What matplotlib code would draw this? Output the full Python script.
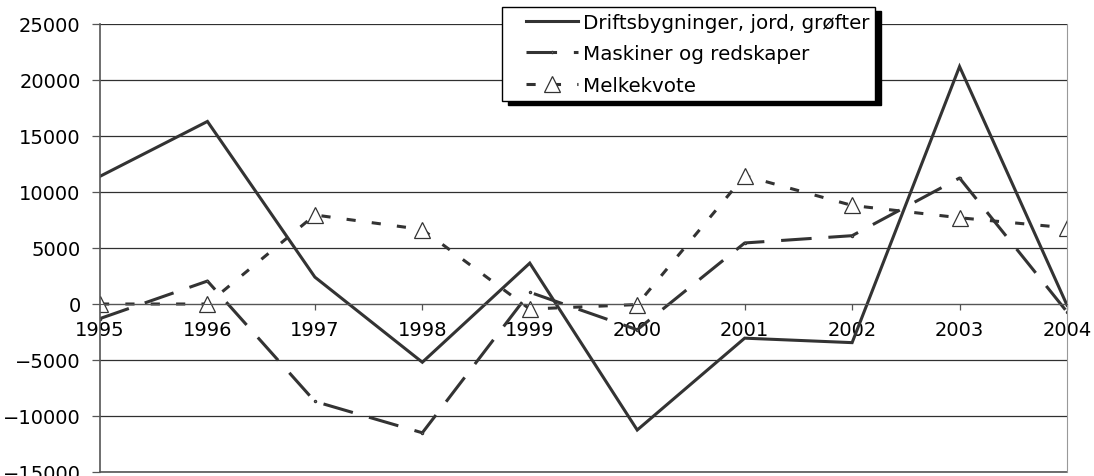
import matplotlib.pyplot as plt
from matplotlib.lines import Line2D
from matplotlib.legend_handler import HandlerLine2D

years = [1995, 1996, 1997, 1998, 1999, 2000, 2001, 2002, 2003, 2004]
drift = [11400, 16300, 2400, -5200, 3650, -11250, -3050, -3450, 21200, -100]
maskiner = [-1300, 2050, -8700, -11500, 1050, -2300, 5450, 6100, 11250, -700]
melkekvote = [0, 0, 7950, 6650, -450, -50, 11450, 8800, 7700, 6800]

labels = ["Driftsbygninger, jord, grøfter", "Maskiner og redskaper", "Melkekvote"]

plt.rcParams['font.family'] = ['DejaVu Sans']
col = "#333333"

fig = plt.figure(figsize=(10.94, 4.77), dpi=100)
ax = fig.add_axes([100 / 1094, 4 / 477, 967 / 1094, 448 / 477])

ax.plot(years, drift, color=col, lw=2.2, solid_joinstyle='miter')
ax.plot(years, maskiner, color=col, lw=2.2, dashes=(10, 5.5),
        marker='.', markersize=3, markerfacecolor='white', markeredgecolor=col)
ax.plot(years, melkekvote, color=col, lw=2.2, dashes=(3, 5.3),
        marker='^', markersize=11, markerfacecolor='white', markeredgecolor=col,
        markeredgewidth=0.9)

ax.set_xlim(1995, 2004)
ax.set_ylim(-15000, 25000)
ax.set_yticks(range(-15000, 25001, 5000))
ax.set_xticks(years)
ax.grid(axis='y', color='#303030', lw=0.9)
ax.set_axisbelow(True)

ax.spines['top'].set_visible(False)
ax.spines['right'].set_color('#999999')
ax.spines['left'].set_color('#555555')
ax.spines['left'].set_linewidth(1.2)
ax.spines['bottom'].set_position(('data', 0))
ax.spines['bottom'].set_color('#555555')
ax.axhline(-15000, color='#555555', lw=1.2, clip_on=False)

ax.tick_params(axis='y', length=6, width=0.9, pad=8, labelsize=14, colors='#555555',
               labelcolor='black')
ax.tick_params(axis='x', length=4.5, width=0.9, pad=7, labelsize=14, colors='#555555',
               labelcolor='black')

# legend: line samples sit a bit in from the box edge, like the original
fs = 14.3
handler = HandlerLine2D(xpad=0.9)
handles = [
    Line2D([], [], color=col, lw=2.2),
    Line2D([], [], color=col, lw=2.2, dashes=(10, 5.5), marker='.', markersize=3,
           markerfacecolor='white', markeredgecolor=col),
    Line2D([], [], color=col, lw=2.2, dashes=(3, 5.3), marker='^', markersize=11,
           markerfacecolor='white', markeredgecolor=col, markeredgewidth=0.9),
]
leg = fig.legend(handles, labels, loc='upper left', bbox_to_anchor=(502 / 1094, 1 - 8 / 477),
                 fontsize=fs, frameon=True, fancybox=False, edgecolor='black', framealpha=1,
                 shadow={'color': 'black', 'alpha': 1, 'ox': 4, 'oy': -3},
                 handlelength=3.52, handletextpad=0.25, labelspacing=0.62, borderpad=0.3,
                 borderaxespad=0, handler_map={Line2D: handler})
leg.get_frame().set_linewidth(1.0)

fig.savefig("out.png", dpi=100)
